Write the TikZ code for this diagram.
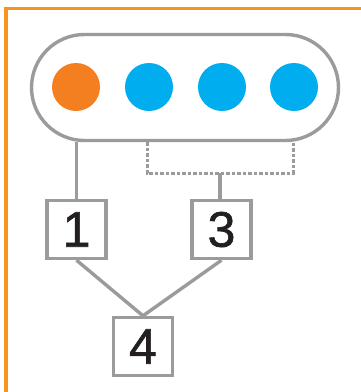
\documentclass[tikz,border=0pt]{standalone}
\usepackage{fontspec}
\setmainfont{Liberation Sans}
\newfontfamily\numfont[FakeBold=1.2]{Liberation Sans}
\usetikzlibrary{shapes.misc}
\definecolor{frameor}{HTML}{F7941D}
\definecolor{dotor}{HTML}{F47F20}
\definecolor{dotbl}{HTML}{00AEEF}
\definecolor{lgray}{HTML}{9B9B9D}
\definecolor{numcol}{HTML}{231F20}
\begin{document}
\begin{tikzpicture}[x=1pt,y=-1pt,
  conn/.style={draw=lgray, line width=3.4pt},
  dotconn/.style={draw=lgray, line width=3pt, dash pattern=on 3.5pt off 2pt},
  numbox/.style={draw=lgray, line width=3.4pt, fill=white, minimum width=59pt,
    minimum height=58pt, inner sep=0pt, font=\numfont\fontsize{50}{50}\selectfont, text=numcol},
  ball/.style={circle, minimum size=48pt, inner sep=0pt}]
\useasboundingbox (0,0) rectangle (361,392);
\fill[white] (0,0) rectangle (361,392);
\draw[frameor, line width=3.6pt] (365,8.5) -- (6,8.5) -- (6,396);
\node[rounded rectangle, draw=lgray, line width=3.4pt, minimum width=307pt,
  minimum height=106pt, inner sep=0pt] (cap) at (185,87.5) {};
\node[ball, fill=dotor] (c1) at (76,87) {};
\node[ball, fill=dotbl] (c2) at (149,87) {};
\node[ball, fill=dotbl] (c3) at (222,87) {};
\node[ball, fill=dotbl] (c4) at (294,87) {};
\node[numbox] (b1) at (76.5,229.5) {1};
\node[numbox] (b3) at (221.5,229.5) {3};
\node[numbox] (b4) at (143,346.5) {4};
\coordinate (j1) at (147,173);
\coordinate (j2) at (293,173);
\coordinate (j) at (220,173);
\draw[conn] (b1.north |- cap.south) -- (b1.north);
\draw[dotconn] (j1 |- cap.south) -- (j1) -- (j2) -- (j2 |- cap.south);
\draw[conn] (j) -- (j |- b3.north);
\draw[conn] (b1.south) -- (b4.north);
\draw[conn] (b3.south) -- (b4.north);
\end{tikzpicture}
\end{document}
